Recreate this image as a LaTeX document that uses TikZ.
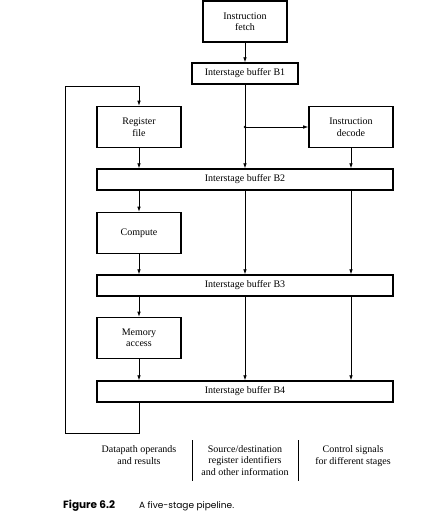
\documentclass[tikz,border=0pt]{standalone}
\usepackage{fontspec}
\setmainfont{Liberation Serif}
\newfontfamily\capfont{Poppins}
\usetikzlibrary{arrows.meta}
\begin{document}
\begin{tikzpicture}[x=1pt,y=-1pt,
  stagebox/.style={draw, line width=1.6pt, rectangle, minimum width=84pt, minimum height=41pt, align=center, inner sep=1pt,
     font=\fontsize{10}{11.5}\selectfont},
  bufbox/.style={draw, line width=1.3pt, rectangle, minimum height=21pt, inner sep=1pt,
     font=\fontsize{10}{11.5}\selectfont},
  arr/.style={line width=0.75pt, -{Latex[length=5pt,width=3.6pt]}},
  ln/.style={line width=0.75pt},
  lbl/.style={align=center, font=\fontsize{10}{11.5}\selectfont, inner sep=0pt}
]
\useasboundingbox (0,0) rectangle (430,517);
\node[stagebox] (fetch) at (245,21.5) {Instruction\\fetch};
\node[bufbox, minimum width=106pt] (B1) at (245,73.5) {Interstage buffer B1};
\node[stagebox] (reg) at (139,127) {Register\\file};
\node[stagebox] (dec) at (351,127) {Instruction\\decode};
\node[bufbox, minimum width=296pt] (B2) at (245,179.5) {Interstage buffer B2};
\node[stagebox] (comp) at (139,233) {Compute};
\node[bufbox, minimum width=296pt] (B3) at (245,285.5) {Interstage buffer B3};
\node[stagebox] (mem) at (139,338) {Memory\\access};
\node[bufbox, minimum width=296pt] (B4) at (245,391.5) {Interstage buffer B4};

\coordinate (j) at (245,127);
\coordinate (fbl) at (65,433);
\coordinate (fbt) at (65,86);

\draw[arr] (fetch.south) -- (B1.north);
\draw[arr] (B1.south) -- (B2.north);
\fill (j) circle (1.3pt);
\draw[arr] (j) -- (dec.west);
\draw[arr] (reg.south) -- (reg.south |- B2.north);
\draw[arr] (dec.south) -- (dec.south |- B2.north);
\draw[arr] (B2.south -| comp.north) -- (comp.north);
\draw[arr] (B2.south) -- (B3.north);
\draw[arr] (B2.south -| dec.south) -- (B3.north -| dec.south);
\draw[arr] (comp.south) -- (comp.south |- B3.north);
\draw[arr] (B3.south -| mem.north) -- (mem.north);
\draw[arr] (B3.south) -- (B4.north);
\draw[arr] (B3.south -| dec.south) -- (B4.north -| dec.south);
\draw[arr] (mem.south) -- (mem.south |- B4.north);
\draw[arr] (B4.south -| mem.south) |- (fbl) -- (fbt) -| (reg.north);

\node[lbl] (l1) at (139,455) {Datapath operands\\and results};
\node[lbl] (l2) at (245,460.5) {Source/destination\\register identifiers\\and other information};
\node[lbl] (l3) at (353,456) {Control signals\\for different stages};
\draw[ln] (192,440) -- (192,481);
\draw[ln] (298,440) -- (298,481);

\node[anchor=base west, inner sep=0pt, font=\capfont\fontsize{10.5}{12}\selectfont\bfseries] (cap1) at (63,508.5) {Figure 6.2};
\node[anchor=base west, inner sep=0pt, font=\capfont\fontsize{9}{11}\selectfont] (cap2) at (139,508.5) {A five-stage pipeline.};
\end{tikzpicture}
\end{document}
